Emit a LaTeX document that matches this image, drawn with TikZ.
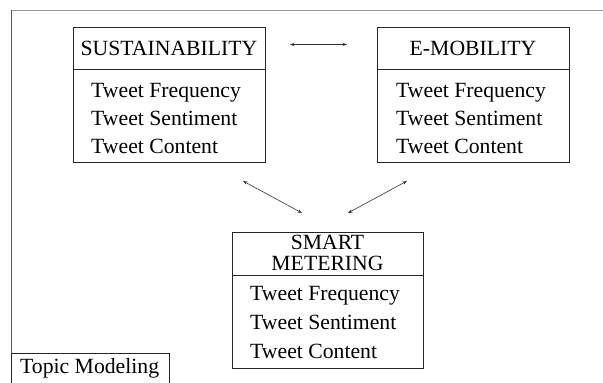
\documentclass[tikz,border=0pt]{standalone}
\usepackage{fontspec}
\setmainfont{Liberation Serif}
\usetikzlibrary{arrows.meta}
\begin{document}
\begin{tikzpicture}[x=1pt,y=-1pt,
  boxpart/.style={draw=black!85,line width=0.8pt,inner sep=0pt,anchor=north west},
  txt/.style={inner sep=0pt,anchor=base west,font=\fontsize{21.7}{26}\selectfont},
  htxt/.style={inner sep=0pt,anchor=base,font=\fontsize{21.7}{26}\selectfont},
  link/.style={draw=black!80,line width=0.6pt,{Stealth[length=4.5pt,width=3.2pt]}-{Stealth[length=4.5pt,width=3.2pt]}}]
\useasboundingbox (0,0) rectangle (603,383);
% frame
\draw[black!40,line width=1pt] (11,10) -- (603,10);
\draw[black!65,line width=0.9pt] (11,10) -- (11,383);
% SUSTAINABILITY
\node[boxpart,minimum width=192pt,minimum height=42pt] (sh) at (73,27) {};
\node[boxpart,minimum width=192pt,minimum height=93pt] (sb) at (73,69) {};
\node[htxt] (sht) at (169,55) {SUSTAINABILITY};
\node[txt] (s1) at (91,97) {Tweet Frequency};
\node[txt] (s2) at (91,125) {Tweet Sentiment};
\node[txt] (s3) at (91,153) {Tweet Content};
% E-MOBILITY
\node[boxpart,minimum width=192pt,minimum height=42pt] (eh) at (377,27) {};
\node[boxpart,minimum width=192pt,minimum height=93pt] (eb) at (377,69) {};
\node[htxt] (eht) at (473,55) {E-MOBILITY};
\node[txt] (e1) at (396,97) {Tweet Frequency};
\node[txt] (e2) at (396,125) {Tweet Sentiment};
\node[txt] (e3) at (396,153) {Tweet Content};
% SMART METERING
\node[boxpart,minimum width=191pt,minimum height=43pt] (mh) at (232,232) {};
\node[boxpart,minimum width=191pt,minimum height=93pt] (mb) at (232,275) {};
\node[htxt] (mht1) at (327.5,249) {SMART};
\node[htxt] (mht2) at (327.5,270) {METERING};
\node[txt] (m1) at (250,300) {Tweet Frequency};
\node[txt] (m2) at (250,329) {Tweet Sentiment};
\node[txt] (m3) at (250,358) {Tweet Content};
% Topic Modeling
\node[txt] (tm) at (20,373) {Topic Modeling};
\draw[black!85,line width=0.8pt] (11,383) |- (169,353) -- (169,383);
% connectors
\coordinate (a1) at (290,44.5);
\coordinate (a2) at (347,44.5);
\coordinate (b1) at (243,181);
\coordinate (b2) at (302,213);
\coordinate (c1) at (348,213);
\coordinate (c2) at (407,181);
\draw[link] (a1) -- (a2);
\draw[link] (b1) -- (b2);
\draw[link] (c1) -- (c2);
\end{tikzpicture}
\end{document}
